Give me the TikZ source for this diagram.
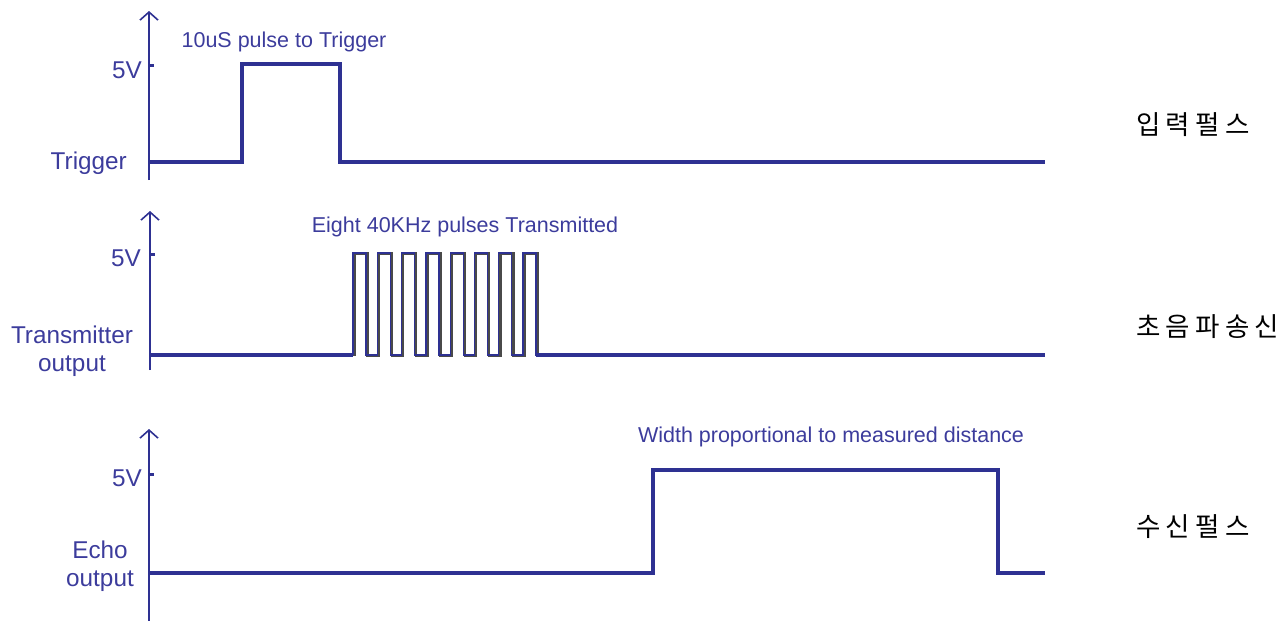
\documentclass[tikz,border=0pt]{standalone}
\usepackage{fontspec}
\setmainfont{Liberation Sans}
\newfontfamily\krfont[LetterSpace=20]{Noto Sans CJK KR}
\usetikzlibrary{arrows.meta}
\definecolor{sig}{HTML}{2E3192}
\definecolor{lbl}{HTML}{3C3C9C}
\definecolor{shadowc}{HTML}{4A4A4A}
\begin{document}
\begin{tikzpicture}[x=1pt,y=-1pt,
  axis/.style={draw=sig, line width=2pt, -{Straight Barb[length=8pt,width=18pt,line width=1.6pt]}},
  wave/.style={draw=sig, line width=3.6pt, line join=miter},
  burstshadow/.style={draw=shadowc, line width=2.4pt, line join=miter},
  burstline/.style={draw=sig, line width=1.3pt, line join=miter},
  tickmark/.style={draw=sig, line width=3pt},
  lab/.style={text=lbl, font=\fontsize{24.3}{28}\selectfont, inner sep=0pt, align=center},
  note/.style={text=lbl, font=\fontsize{21.5}{24}\selectfont, inner sep=0pt},
  kor/.style={font=\krfont\fontsize{26.5}{30}\selectfont, anchor=west, inner sep=0pt, text=black}]
\useasboundingbox (0,0) rectangle (1288,621);

% ---------- Trigger panel ----------
\coordinate (a1b) at (149,180);
\coordinate (a1t) at (149,11);
\draw[axis] (a1b) -- (a1t);
\draw[tickmark] (149,65) -- (154,65);
\draw[wave] (149,162) -- (242,162) -- (242,64) -- (340,64) -- (340,162) -- (1045,162);
\node[lab, anchor=east] (v1) at (142,70) {5V};
\node[lab, anchor=east] (trig) at (127,163) {Trigger};
\node[note] (n1) at (284,42) {10uS pulse to Trigger};
\node[kor] (k1) at (1136,125) {입력펄스};

% ---------- Transmitter panel ----------
\coordinate (a2b) at (150,370);
\coordinate (a2t) at (150,211);
\draw[axis] (a2b) -- (a2t);
\draw[tickmark] (150,254) -- (155,254);
\draw[burstshadow] (354.5,356)
  \foreach \i in {0,...,7} {
    -- (354.5+\i*24.3,253.5) -- (354.5+\i*24.3+13,253.5) -- (354.5+\i*24.3+13,356) -- (354.5+\i*24.3+24.3,356)
  };
\draw[burstline] (353,355)
  \foreach \i in {0,...,7} {
    -- (353+\i*24.3,253) -- (353+\i*24.3+13,253) -- (353+\i*24.3+13,355) -- (353+\i*24.3+24.3,355)
  };
\draw[wave] (150,355) -- (353,355);
\draw[wave] (536,355) -- (1045,355);
\node[lab, anchor=east] (v2) at (141,258) {5V};
\node[lab] (tx) at (72,351) {Transmitter\\output};
\node[note] (n2) at (465,227) {Eight 40KHz pulses Transmitted};
\node[kor] (k2) at (1136,327) {초음파송신};

% ---------- Echo panel ----------
\coordinate (a3b) at (149,621);
\coordinate (a3t) at (149,429);
\draw[axis] (a3b) -- (a3t);
\draw[tickmark] (149,474) -- (154,474);
\draw[wave] (149,573) -- (653,573) -- (653,470) -- (998,470) -- (998,573) -- (1045,573);
\node[lab, anchor=east] (v3) at (142,478) {5V};
\node[lab] (echo) at (100,566) {Echo\\output};
\node[note] (n3) at (831,437) {Width proportional to measured distance};
\node[kor] (k3) at (1136,527) {수신펄스};
\end{tikzpicture}
\end{document}
